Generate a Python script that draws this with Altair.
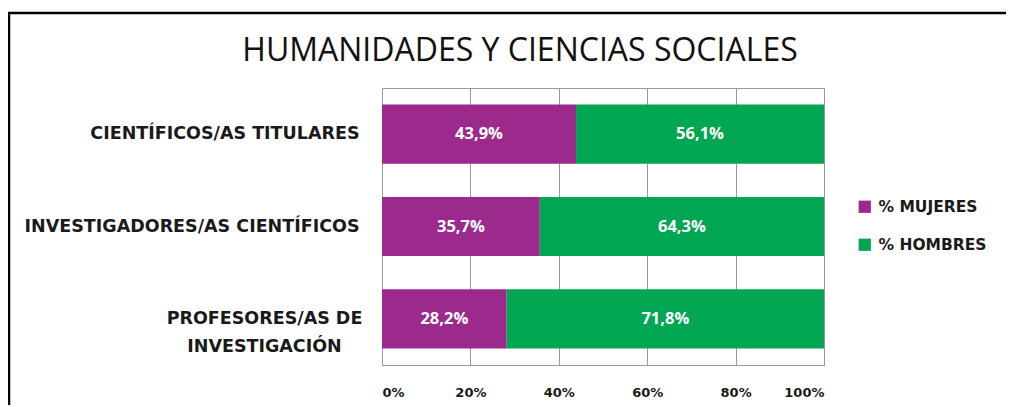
import altair as alt
import pandas as pd

categories = ["CIENTÍFICOS/AS TITULARES", "INVESTIGADORES/AS CIENTÍFICOS", "PROFESORES/AS DE INVESTIGACIÓN"]
mujeres = [43.9, 35.7, 28.2]
hombres = [56.1, 64.3, 71.8]
series = ["% MUJERES", "% HOMBRES"]
colors = ["#9B2A8C", "#00A651"]
ticks = [0, 20, 40, 60, 80, 100]
title_text = "HUMANIDADES Y CIENCIAS SOCIALES"

rows = []
for c, m, h in zip(categories, mujeres, hombres):
    rows.append({"cat": c, "serie": series[0], "value": m, "ord": 0})
    rows.append({"cat": c, "serie": series[1], "value": h, "ord": 1})
df = pd.DataFrame(rows)

FONT = "DejaVu Sans"
FONT2 = "Open Sans"

base = alt.Chart(df).transform_stack(
    stack="value", groupby=["cat"], sort=[alt.SortField("ord")], as_=["x0", "x1"]
).transform_calculate(
    mid="(datum.x0 + datum.x1) / 2",
    lab="replace(format(datum.value, '.1f'), '.', ',') + '%'",
)

two_line = "datum.value == 'PROFESORES/AS DE INVESTIGACIÓN'"
label_expr = (
    "datum.label == 'PROFESORES/AS DE INVESTIGACIÓN' ? "
    "['PROFESORES/AS DE', 'INVESTIGACIÓN'] : datum.label"
)

y_enc = alt.Y(
    "cat:N",
    sort=categories,
    title=None,
    scale=alt.Scale(paddingInner=0.36, paddingOuter=0.18),
    axis=alt.Axis(
        ticks=False, domain=False,
        labelPadding={"condition": {"test": two_line, "value": 118}, "value": 23},
        labelAlign={"condition": {"test": two_line, "value": "center"}, "value": "right"},
        labelFontSize=17.5,
        labelFont=FONT, labelFontWeight="bold", labelColor="#1a1a1a",
        labelLineHeight=28, labelExpr=label_expr, labelLimit=400,
    ),
)

bars = base.mark_bar().encode(
    x=alt.X(
        "x0:Q",
        scale=alt.Scale(domain=[0, 100], nice=False),
        title=None,
        axis=alt.Axis(
            values=ticks, labelExpr="datum.value + '%'", ticks=False,
            grid=True, gridColor="#9a9a9a", gridWidth=1, domainColor="#9a9a9a",
            labelFont=FONT, labelFontSize=13, labelFontWeight="bold",
            labelColor="#1a1a1a", labelPadding=21,
        ),
    ),
    x2="x1:Q",
    y=y_enc,
    color=alt.Color(
        "serie:N",
        scale=alt.Scale(domain=series, range=colors),
        sort=series,
        legend=alt.Legend(
            title=None, orient="none", legendX=475, legendY=111,
            symbolType="square", symbolSize=150, symbolStrokeWidth=0,
            labelFont=FONT, labelFontSize=15.5, labelFontWeight="bold",
            labelColor="#1a1a1a", rowPadding=21, labelOffset=6,
        ),
    ),
)

texts = base.mark_text(
    color="white", font=FONT2, fontSize=16.5, fontWeight="bold"
).encode(
    x="mid:Q",
    y=alt.Y("cat:N", sort=categories),
    text="lab:N",
)

frame_df = pd.DataFrame({"k": [0]})
top_rule = alt.Chart(frame_df).mark_rule(color="black", strokeWidth=2.5).encode(
    x=alt.value(-374), x2=alt.value(640), y=alt.value(-75)
)
left_rule = alt.Chart(frame_df).mark_rule(color="black", strokeWidth=2.5).encode(
    x=alt.value(-373), y=alt.value(-76), y2=alt.value(330)
)
title_mark = alt.Chart(pd.DataFrame({"t": [title_text]})).mark_text(
    font=FONT2, fontSize=32, fontWeight="normal", color="#111111",
    align="center", baseline="middle",
).encode(
    x=alt.value(138), y=alt.value(-37), text="t:N"
)

chart = alt.layer(bars, texts, top_rule, left_rule, title_mark).properties(
    width=442,
    height=277,
    autosize=alt.AutoSizeParams(type="none"),
    padding={"left": 374, "top": 80, "right": 182, "bottom": 40},
).configure_view(stroke="#9a9a9a", strokeWidth=1)

chart.save("out.html", embed_options={"renderer": "svg", "actions": False})
